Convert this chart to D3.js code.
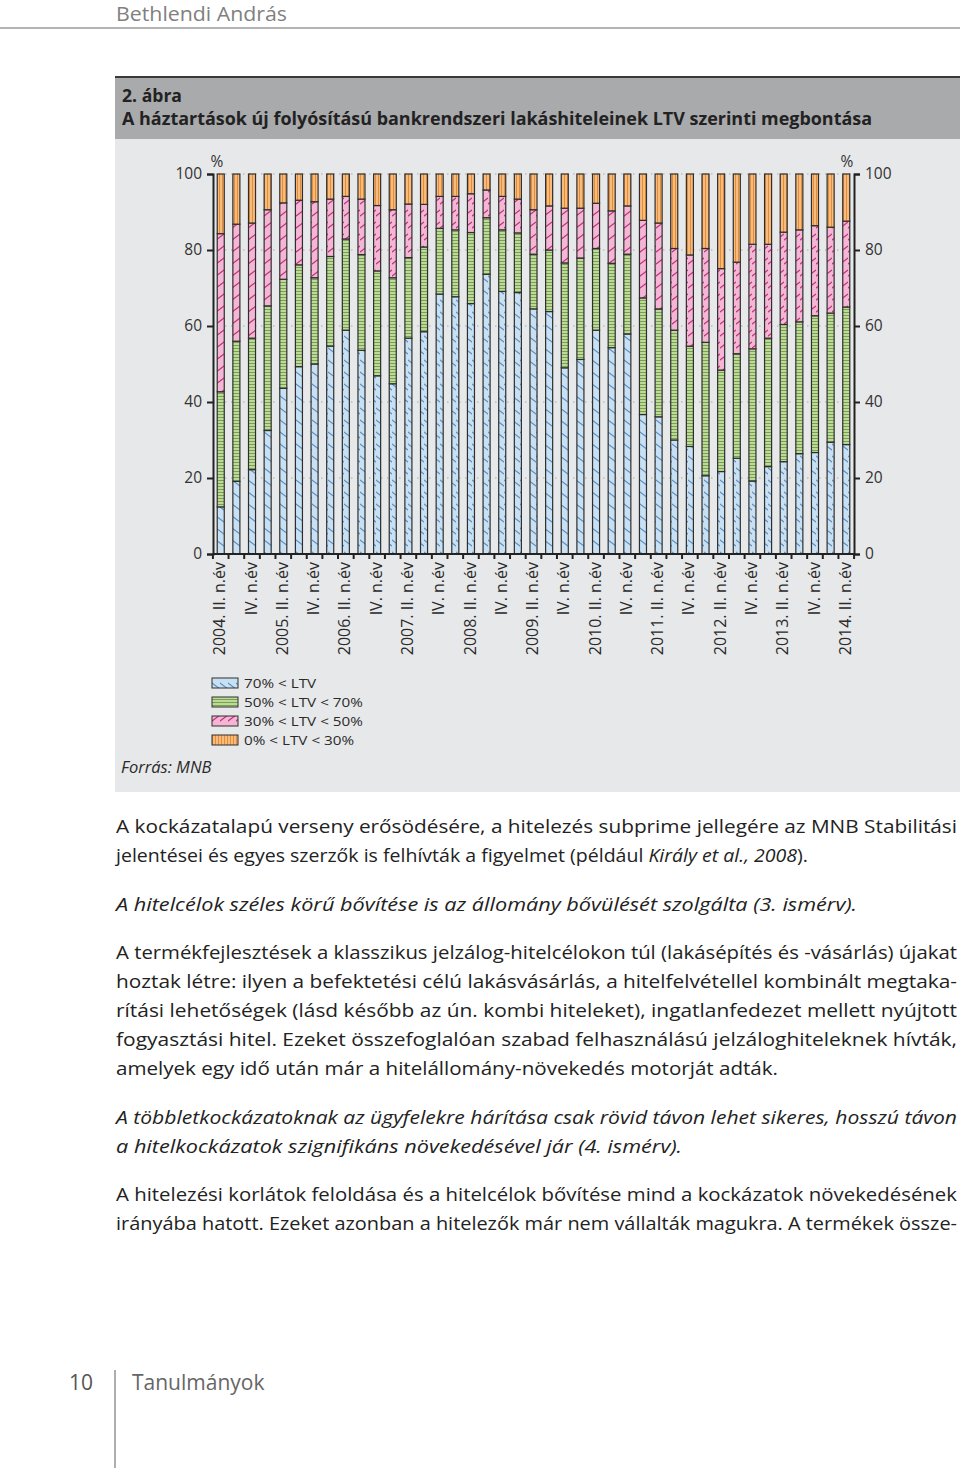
<!DOCTYPE html>
<html><head><meta charset="utf-8">
<script src="https://cdn.jsdelivr.net/npm/d3@7"></script>
<style>
html,body{margin:0;padding:0;background:#fff;}
svg{display:block;}
</style></head>
<body>
<svg id="page" width="960" height="1468"></svg>
<script>
// ---- DATA ----
const categories = ["2004Q2","2004Q3","2004Q4","2005Q1","2005Q2","2005Q3","2005Q4","2006Q1","2006Q2","2006Q3","2006Q4",
  "2007Q1","2007Q2","2007Q3","2007Q4","2008Q1","2008Q2","2008Q3","2008Q4","2009Q1","2009Q2","2009Q3","2009Q4",
  "2010Q1","2010Q2","2010Q3","2010Q4","2011Q1","2011Q2","2011Q3","2011Q4","2012Q1","2012Q2","2012Q3","2012Q4",
  "2013Q1","2013Q2","2013Q3","2013Q4","2014Q1","2014Q2"];
const tickCategories = ["2004Q2","2004Q4","2005Q2","2005Q4","2006Q2","2006Q4","2007Q2","2007Q4","2008Q2","2008Q4",
  "2009Q2","2009Q4","2010Q2","2010Q4","2011Q2","2011Q4","2012Q2","2012Q4","2013Q2","2013Q4","2014Q2"];
const tickLabels = ["2004. II. n.év","IV. n.év","2005. II. n.év","IV. n.év","2006. II. n.év","IV. n.év","2007. II. n.év","IV. n.év",
  "2008. II. n.év","IV. n.év","2009. II. n.év","IV. n.év","2010. II. n.év","IV. n.év","2011. II. n.év","IV. n.év",
  "2012. II. n.év","IV. n.év","2013. II. n.év","IV. n.év","2014. II. n.év"];
const seriesNames = ["70% < LTV","50% < LTV < 70%","30% < LTV < 50%","0% < LTV < 30%"];
const ltvOver70 = [12.4,19.1,22.2,32.5,43.6,49.3,50.0,54.7,58.9,53.6,46.9,44.8,56.8,58.5,68.4,67.7,65.9,73.6,69.1,68.8,64.5,63.8,
  49.0,51.2,58.9,54.3,57.9,36.7,36.1,30.0,28.3,20.6,21.7,25.2,19.2,23.0,24.3,26.4,26.7,29.4,28.8];
const ltv50to70 = [30.3,36.9,34.6,32.8,28.7,26.8,22.7,23.6,24.0,25.2,27.6,27.9,21.2,22.3,17.3,17.6,18.7,14.9,16.2,15.7,14.4,16.2,
  27.6,26.7,21.5,22.2,21.0,30.7,28.4,28.9,26.4,35.1,26.7,27.5,34.8,33.8,36.1,34.7,36.0,34.0,36.2];
const ltv30to50 = [41.6,30.8,30.3,25.3,20.1,17.0,20.0,15.1,11.2,14.6,17.2,17.9,14.1,11.2,8.4,8.8,10.2,7.3,8.8,8.9,11.7,11.6,
  14.4,13.1,11.9,13.8,12.7,20.4,22.6,21.5,24.0,24.7,26.7,24.1,27.5,24.7,24.3,24.2,23.7,22.6,22.6];
const ltv0to30 = [15.7,13.2,12.9,9.4,7.6,6.9,7.3,6.6,5.9,6.6,8.3,9.4,7.9,8.0,5.9,5.9,5.2,4.2,5.9,6.6,9.4,8.4,
  9.0,9.0,7.7,9.7,8.4,12.2,12.9,19.6,21.3,19.6,24.9,23.2,18.5,18.5,15.3,14.7,13.6,14.0,12.4];
const yTicks = [0,20,40,60,80,100];

// ---- PAGE ----
const svg = d3.select("#page");
const defs = svg.append("defs");
function pat(id, w, h, bg, drawFn){
  const p = defs.append("pattern").attr("id", id).attr("patternUnits","userSpaceOnUse").attr("width", w).attr("height", h);
  p.append("rect").attr("width", w).attr("height", h).attr("fill", bg);
  drawFn(p);
}
pat("pBlue", 8, 12, "#c8e0f4", p => {
  p.append("path").attr("d","M-2,-1.5 L10,7.5 M-2,10.5 L10,19.5 M-2,-13.5 L10,-4.5").attr("stroke","#5f8fba").attr("stroke-width",1.1).attr("fill","none");
});
pat("pGreen", 4, 3, "#bdd99b", p => {
  p.append("line").attr("x1",0).attr("x2",4).attr("y1",0.5).attr("y2",0.5).attr("stroke","#77a14a").attr("stroke-width",1);
});
pat("pPink", 8, 12, "#f5b6d6", p => {
  p.append("path").attr("d","M-2,13.5 L10,4.5 M-2,1.5 L10,-7.5 M-2,25.5 L10,16.5").attr("stroke","#c2327d").attr("stroke-width",1.3).attr("fill","none");
});
pat("pOrange", 3, 4, "#f8bb7c", p => {
  p.append("line").attr("x1",0.5).attr("x2",0.5).attr("y1",0).attr("y2",4).attr("stroke","#e08d3c").attr("stroke-width",1);
});
const fills = ["url(#pBlue)","url(#pGreen)","url(#pPink)","url(#pOrange)"];

// header
svg.append("text").attr("x",116).attr("y",21).attr("font-family","Open Sans, sans-serif").attr("font-size",20)
  .attr("fill","#808080").attr("textLength",171).attr("lengthAdjust","spacingAndGlyphs").text("Bethlendi András");
svg.append("line").attr("x1",0).attr("x2",960).attr("y1",28).attr("y2",28).attr("stroke","#9a9a9a").attr("stroke-width",1.5);

// panel
svg.append("rect").attr("x",115).attr("y",76).attr("width",845).attr("height",716).attr("fill","#e7e8e9");
svg.append("rect").attr("x",115).attr("y",76).attr("width",845).attr("height",63).attr("fill","#a9aaac");
svg.append("line").attr("x1",115).attr("x2",960).attr("y1",77).attr("y2",77).attr("stroke","#3a3a3a").attr("stroke-width",2);
svg.append("text").attr("x",122).attr("y",102).attr("font-family","Open Sans, sans-serif").attr("font-weight","bold")
  .attr("font-size",18).attr("fill","#222").attr("textLength",60).attr("lengthAdjust","spacingAndGlyphs").text("2. ábra");
svg.append("text").attr("x",122).attr("y",125).attr("font-family","Open Sans, sans-serif").attr("font-weight","bold")
  .attr("font-size",18).attr("fill","#222").attr("textLength",750).attr("lengthAdjust","spacingAndGlyphs")
  .text("A háztartások új folyósítású bankrendszeri lakáshiteleinek LTV szerinti megbontása");

// ---- CHART ----
const L = 213, R = 854, T = 174, B = 554;
const x = d3.scaleBand().domain(categories).range([L, R]).paddingInner(0.55).paddingOuter(0.27);
const y = d3.scaleLinear().domain([0,100]).range([B, T]);
const g = svg.append("g");

// grid
g.selectAll("line.grid").data(yTicks.filter(v => v > 0)).join("line").attr("class","grid")
  .attr("x1",L).attr("x2",R).attr("y1",d => y(d)).attr("y2",d => y(d))
  .attr("stroke","#a8a8a8").attr("stroke-width",1).attr("stroke-dasharray","1.5,4.5");

// stacked bars
const rows = categories.map((c,i) => ({cat:c, s0:ltvOver70[i], s1:ltv50to70[i], s2:ltv30to50[i], s3:ltv0to30[i]}));
const stack = d3.stack().keys(["s0","s1","s2","s3"])(rows);
stack.forEach((layer, k) => {
  g.append("g").selectAll("rect").data(layer).join("rect")
    .attr("x", d => x(d.data.cat)).attr("width", x.bandwidth())
    .attr("y", d => y(Math.min(100, d[1]))).attr("height", d => y(d[0]) - y(Math.min(100, d[1])))
    .attr("fill", fills[k]).attr("stroke","#2e2e2e").attr("stroke-width",1.2);
});

// axes
const axL = g.append("g").attr("transform",`translate(${L},0)`)
  .call(d3.axisLeft(y).tickValues(yTicks).tickSize(6).tickPadding(5));
const axR = g.append("g").attr("transform",`translate(${R},0)`)
  .call(d3.axisRight(y).tickValues(yTicks).tickSize(6).tickPadding(5));
[axL, axR].forEach(a => {
  a.select(".domain").attr("stroke","#222").attr("stroke-width",2);
  a.selectAll(".tick line").attr("stroke","#222").attr("stroke-width",2);
  a.selectAll(".tick text").attr("font-family","Open Sans, sans-serif").attr("font-size",15.5).attr("fill","#333");
});
svg.append("text").attr("x",217).attr("y",167).attr("text-anchor","middle").attr("font-family","Open Sans, sans-serif")
  .attr("font-size",15.5).attr("fill","#333").text("%");
svg.append("text").attr("x",847).attr("y",167).attr("text-anchor","middle").attr("font-family","Open Sans, sans-serif")
  .attr("font-size",15.5).attr("fill","#333").text("%");

// x axis: boundary ticks
const step = x.step();
const bounds = d3.range(categories.length + 1).map(i => L + (x.range()[1]-x.range()[0] - step*categories.length)/2 + i*step);
g.append("line").attr("x1",L).attr("x2",R).attr("y1",B).attr("y2",B).attr("stroke","#222").attr("stroke-width",2);
g.selectAll("line.xt").data(bounds).join("line").attr("class","xt")
  .attr("x1",d => d).attr("x2",d => d).attr("y1",B).attr("y2",B+5).attr("stroke","#222").attr("stroke-width",2);
g.selectAll("text.xl").data(tickCategories).join("text").attr("class","xl")
  .attr("transform", d => `translate(${x(d) + x.bandwidth()/2 - 1},${B+8}) rotate(-90)`)
  .attr("dy","0.35em").attr("text-anchor","end").attr("font-family","Open Sans, sans-serif").attr("font-size",16)
  .attr("fill","#2a2a2a").text((d,i) => tickLabels[i]);

// legend
const lg = svg.append("g").selectAll("g").data(seriesNames).join("g")
  .attr("transform",(d,i) => `translate(212,${683 + i*19})`);
lg.append("rect").attr("x",0).attr("y",-5).attr("width",26).attr("height",10).attr("fill",(d,i) => fills[i])
  .attr("stroke","#2e2e2e").attr("stroke-width",1);
lg.append("text").attr("x",32).attr("y",0).attr("dy","0.35em").attr("font-family","Open Sans, sans-serif")
  .attr("font-size",13.5).attr("fill","#2a2a2a").text(d => d)
  .each(function(){ const w = this.getComputedTextLength(); d3.select(this).attr("textLength", w*1.13).attr("lengthAdjust","spacingAndGlyphs"); });
svg.append("text").attr("x",121).attr("y",773).attr("font-family","Open Sans, sans-serif").attr("font-style","italic")
  .attr("font-size",16.5).attr("fill","#2a2a2a").text("Forrás: MNB");

// ---- BODY TEXT ----
const bodyLines = [
  {y:833, w:841, parts:[["A kockázatalapú verseny erősödésére, a hitelezés subprime jellegére az MNB Stabilitási",false]]},
  {y:862, w:692, parts:[["jelentései és egyes szerzők is felhívták a figyelmet (például ",false],["Király et al., 2008",true],[").",false]]},
  {y:911, w:741, parts:[["A hitelcélok széles körű bővítése is az állomány bővülését szolgálta (3. ismérv).",true]]},
  {y:959, w:841, parts:[["A termékfejlesztések a klasszikus jelzálog-hitelcélokon túl (lakásépítés és -vásárlás) újakat",false]]},
  {y:988, w:841, parts:[["hoztak létre: ilyen a befektetési célú lakásvásárlás, a hitelfelvétellel kombinált megtaka-",false]]},
  {y:1017, w:841, parts:[["rítási lehetőségek (lásd később az ún. kombi hiteleket), ingatlanfedezet mellett nyújtott",false]]},
  {y:1046, w:841, parts:[["fogyasztási hitel. Ezeket összefoglalóan szabad felhasználású jelzáloghiteleknek hívták,",false]]},
  {y:1075, w:662, parts:[["amelyek egy idő után már a hitelállomány-növekedés motorját adták.",false]]},
  {y:1124, w:841, parts:[["A többletkockázatoknak az ügyfelekre hárítása csak rövid távon lehet sikeres, hosszú távon",true]]},
  {y:1153, w:566, parts:[["a hitelkockázatok szignifikáns növekedésével jár (4. ismérv).",true]]},
  {y:1201, w:841, parts:[["A hitelezési korlátok feloldása és a hitelcélok bővítése mind a kockázatok növekedésének",false]]},
  {y:1230, w:841, parts:[["irányába hatott. Ezeket azonban a hitelezők már nem vállalták magukra. A termékek össze-",false]]}
];
bodyLines.forEach(l => {
  const t = svg.append("text").attr("x",116).attr("y",l.y).attr("font-family","Open Sans, sans-serif")
    .attr("font-size",19).attr("fill","#222").attr("textLength",l.w).attr("lengthAdjust","spacingAndGlyphs");
  l.parts.forEach(p => t.append("tspan").attr("font-style", p[1] ? "italic" : "normal").text(p[0]));
});

// footer
svg.append("text").attr("x",93).attr("y",1390).attr("text-anchor","end").attr("font-family","Open Sans, sans-serif")
  .attr("font-size",21).attr("fill","#555").text("10");
svg.append("line").attr("x1",115).attr("x2",115).attr("y1",1370).attr("y2",1468).attr("stroke","#777").attr("stroke-width",1.2);
svg.append("text").attr("x",132).attr("y",1390).attr("font-family","Open Sans, sans-serif")
  .attr("font-size",21).attr("fill","#666").text("Tanulmányok");
</script>
</body></html>
